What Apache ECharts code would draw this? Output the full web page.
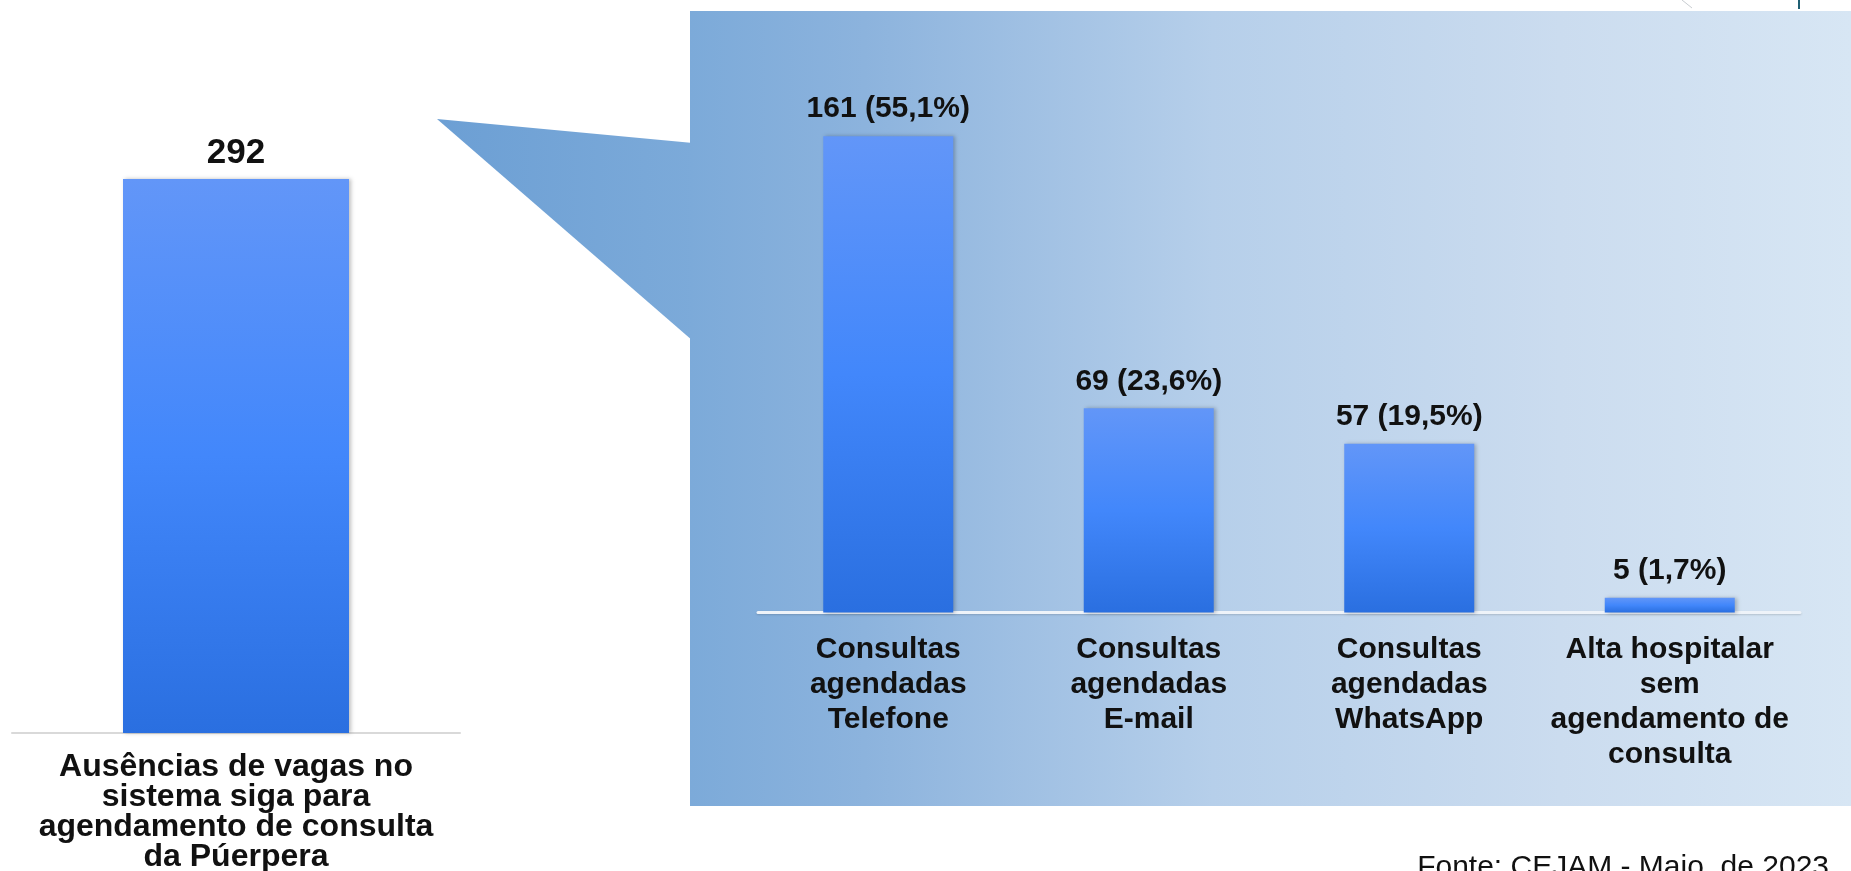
<!DOCTYPE html>
<html>
<head>
<meta charset="utf-8">
<script src="https://cdn.jsdelivr.net/npm/echarts@6/dist/echarts.min.js"></script>
<style>
  html, body { margin: 0; padding: 0; background: #fff; }
  #chart { width: 1851px; height: 871px; }
</style>
</head>
<body>
<div id="chart"></div>
<script>
// left chart: total
const totalCategories = ['Ausências de vagas no\nsistema siga para\nagendamento de consulta\nda Púerpera'];
const totalValues = [292];

// right chart: breakdown
const detailCategories = [
  'Consultas\nagendadas\nTelefone',
  'Consultas\nagendadas\nE-mail',
  'Consultas\nagendadas\nWhatsApp',
  'Alta hospitalar\nsem\nagendamento de\nconsulta'
];
const detailValues = [161, 69, 57, 5];
const detailPercents = ['55,1%', '23,6%', '19,5%', '1,7%'];

const FONT = '"Liberation Sans", Arial, sans-serif';

const chart = echarts.init(document.getElementById('chart'));

const barColor = {
  type: 'linear', x: 0, y: 0, x2: 0, y2: 1,
  colorStops: [
    { offset: 0, color: '#6296f8' },
    { offset: 0.5, color: '#4287fb' },
    { offset: 1, color: '#2a6fe0' }
  ]
};

const option = {
  backgroundColor: '#ffffff',
  animation: false,
  graphic: [
    {
      // callout panel
      type: 'rect',
      z: -10,
      shape: { x: 690, y: 11, width: 1161, height: 795 },
      style: {
        fill: {
          type: 'linear', x: 0, y: 0, x2: 1, y2: 0,
          colorStops: [
            { offset: 0, color: '#7caad9' },
            { offset: 0.15, color: '#8cb3dd' },
            { offset: 0.45, color: '#b6cfea' },
            { offset: 0.75, color: '#cbdcef' },
            { offset: 1, color: '#d7e6f4' }
          ]
        }
      }
    },
    {
      type: 'polygon',
      z: -10,
      shape: { points: [[437, 119], [693, 143], [693, 341]] },
      style: {
        fill: {
          type: 'linear', x: 0, y: 0, x2: 1, y2: 0,
          colorStops: [
            { offset: 0, color: '#6c9fd4' },
            { offset: 1, color: '#7caad9' }
          ]
        }
      }
    },
    {
      type: 'text',
      right: 22,
      top: 853,
      style: {
        text: 'Fonte: CEJAM - Maio  de 2023',
        font: '30px ' + FONT,
        fill: '#111'
      }
    },
    {
      type: 'line',
      shape: { x1: 1799, y1: 0, x2: 1799, y2: 9 },
      style: { stroke: '#1f5f73', lineWidth: 2 }
    },
    {
      type: 'line',
      shape: { x1: 1682, y1: 0, x2: 1692, y2: 8 },
      style: { stroke: '#c8ccd0', lineWidth: 1 }
    }
  ],
  grid: [
    { left: 12, width: 448, top: 163.8, bottom: 138, outerBoundsMode: 'none' },
    { left: 758, width: 1042, top: 109.5, bottom: 258.5, outerBoundsMode: 'none' }
  ],
  xAxis: [
    {
      type: 'category',
      gridIndex: 0,
      data: totalCategories,
      axisTick: { show: false },
      axisLine: { lineStyle: { color: '#d9d9d9', width: 2 } },
      axisLabel: {
        interval: 0,
        margin: 19,
        fontFamily: FONT,
        fontSize: 32,
        fontWeight: 'bold',
        lineHeight: 30,
        color: '#111'
      }
    },
    {
      type: 'category',
      gridIndex: 1,
      data: detailCategories,
      axisTick: { show: false },
      axisLine: { lineStyle: { color: '#eef3f9', width: 3, shadowColor: 'rgba(0,0,0,0.15)', shadowBlur: 2, shadowOffsetY: 1 } },
      axisLabel: {
        interval: 0,
        margin: 20,
        fontFamily: FONT,
        fontSize: 30,
        fontWeight: 'bold',
        lineHeight: 35,
        color: '#111'
      }
    }
  ],
  yAxis: [
    { type: 'value', gridIndex: 0, min: 0, max: 300, show: false },
    { type: 'value', gridIndex: 1, min: 0, max: 170, show: false }
  ],
  series: [
    {
      type: 'bar',
      xAxisIndex: 0,
      yAxisIndex: 0,
      barWidth: 226,
      data: totalValues,
      itemStyle: {
        color: barColor,
        shadowColor: 'rgba(0,0,0,0.25)',
        shadowBlur: 4,
        shadowOffsetX: 2
      },
      label: {
        show: true,
        position: 'top',
        distance: 8,
        fontFamily: FONT,
        fontSize: 35,
        fontWeight: 'bold',
        color: '#111'
      }
    },
    {
      type: 'bar',
      xAxisIndex: 1,
      yAxisIndex: 1,
      barWidth: 130,
      data: detailValues,
      itemStyle: {
        color: barColor,
        shadowColor: 'rgba(0,0,0,0.25)',
        shadowBlur: 4,
        shadowOffsetX: 2
      },
      label: {
        show: true,
        position: 'top',
        distance: 12,
        fontFamily: FONT,
        fontSize: 30,
        fontWeight: 'bold',
        color: '#111',
        formatter: (p) => p.value + ' (' + detailPercents[p.dataIndex] + ')'
      }
    }
  ]
};

chart.setOption(option);
</script>
</body>
</html>
